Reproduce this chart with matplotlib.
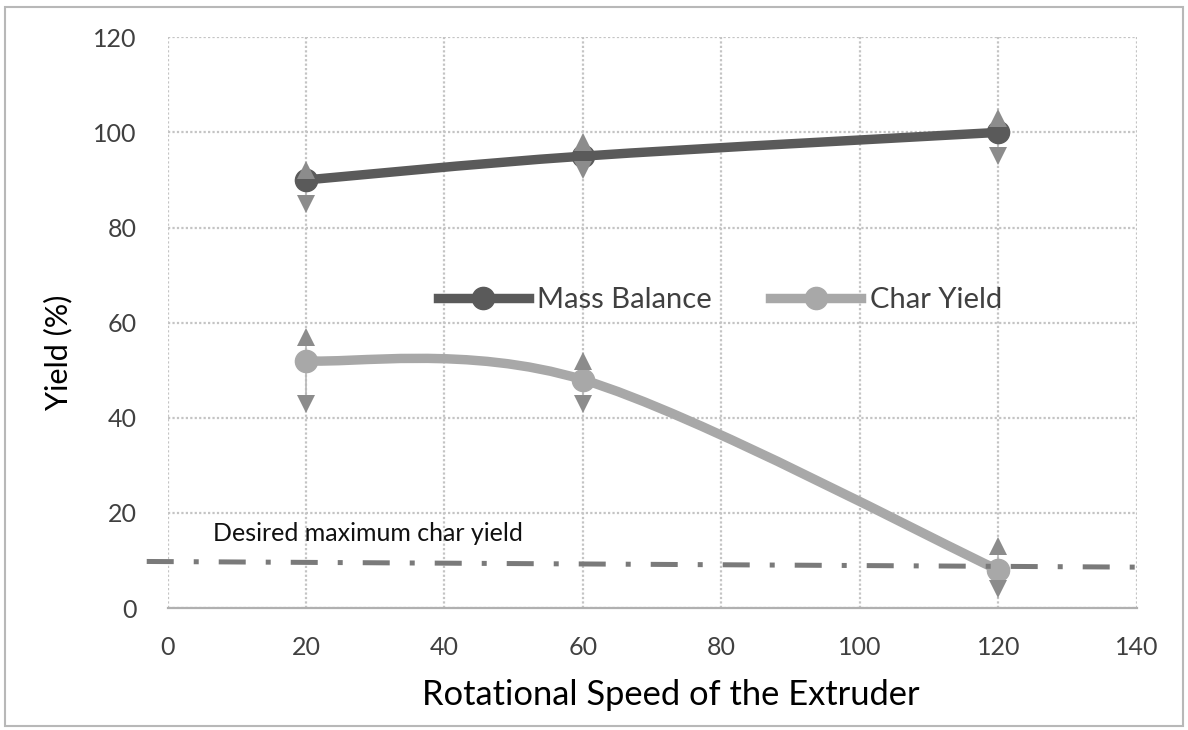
import numpy as np
import matplotlib.pyplot as plt
from matplotlib.path import Path
from matplotlib.patches import PathPatch, Rectangle
from matplotlib.lines import Line2D

plt.rcParams["font.family"] = ["Lato", "DejaVu Sans"]

speed = [20, 60, 120]
mass_balance = [90, 95, 100]
mass_upper = [92, 98, 103]
mass_lower = [85, 92, 95]
char_yield = [52, 48, 8]
char_upper = [57, 52, 13]
char_lower = [43, 43, 4]

threshold_x = [-3, 141]
threshold_y = [9.8, 8.6]
threshold_label = "Desired maximum char yield"

x_ticks = [0, 20, 40, 60, 80, 100, 120, 140]
y_ticks = [0, 20, 40, 60, 80, 100, 120]

MASS_COLOR = "#5a5a5a"
CHAR_COLOR = "#a8a8a8"


def smooth_path(xs, ys):
    # excel-style smoothed line: cubic bezier through the points
    pts = np.column_stack([xs, ys]).astype(float)
    n = len(pts)
    verts = [pts[0]]
    codes = [Path.MOVETO]
    for i in range(n - 1):
        p0 = pts[i - 1] if i > 0 else pts[i]
        p1 = pts[i]
        p2 = pts[i + 1]
        p3 = pts[i + 2] if i + 2 < n else pts[i + 1]
        c1 = p1 + (p2 - p0) / 6
        c2 = p2 - (p3 - p1) / 6
        verts += [c1, c2, p2]
        codes += [Path.CURVE4] * 3
    return Path(verts, codes)


fig = plt.figure(figsize=(11.88, 7.30), dpi=100)
ax = fig.add_axes([0.141, 0.167, 0.816, 0.782])

ax.set_xlim(0, 140)
ax.set_ylim(0, 120)
ax.set_xticks(x_ticks)
ax.set_yticks(y_ticks)
ax.grid(True, color="#c4c4c4", linestyle=(0, (1, 1)), linewidth=1.6, zorder=0)
ax.set_axisbelow(True)
for side in ["top", "right", "left"]:
    ax.spines[side].set_visible(False)
ax.spines["bottom"].set_color("#b0b0b0")
ax.spines["bottom"].set_linewidth(1.6)
ax.tick_params(length=0, labelsize=18, colors="#404040")
ax.tick_params(axis="x", pad=20)
ax.tick_params(axis="y", pad=22)

for ys, up, lo, col in [(mass_balance, mass_upper, mass_lower, MASS_COLOR),
                        (char_yield, char_upper, char_lower, CHAR_COLOR)]:
    ax.add_patch(PathPatch(smooth_path(speed, ys), facecolor="none",
                           edgecolor=col, lw=6.8, capstyle="round", zorder=3))
    ax.plot(speed, ys, "o", color=col, ms=16, zorder=4)
    ax.vlines(speed, lo, up, color="#b8b8b8", lw=1.2, zorder=2)
    ax.plot(speed, up, "^", color="#8c8c8c", ms=13, zorder=5, markeredgewidth=0)
    ax.plot(speed, lo, "v", color="#8c8c8c", ms=13, zorder=5, markeredgewidth=0)

thr = Line2D(threshold_x, threshold_y, color="#7a7a7a", lw=3.6, clip_on=False, zorder=4)
thr.set_dashes([5.4, 4, 1, 4])
ax.add_line(thr)
ax.text(6.5, 15.7, threshold_label, fontsize=18, color="#111111", va="center")

handles = [Line2D([], [], color=MASS_COLOR, lw=6.8, marker="o", ms=16),
           Line2D([], [], color=CHAR_COLOR, lw=6.8, marker="o", ms=16)]
ax.legend(handles, ["Mass Balance", "Char Yield"], loc="center",
          bbox_to_anchor=(0.57, 0.54), ncol=2, frameon=False, fontsize=21,
          handlelength=3.1, columnspacing=2.0, handletextpad=0.3,
          labelcolor="#404040")

ax.set_xlabel("Rotational Speed of the Extruder", fontsize=24.8)
ax.xaxis.set_label_coords(0.519, -0.125)
ax.set_ylabel("Yield (%)", fontsize=22)
ax.yaxis.set_label_coords(-0.098, 0.448)

fig.patches.append(Rectangle((0.004, 0.005), 0.992, 0.985, transform=fig.transFigure,
                             fill=False, edgecolor="#b8b8b8", lw=1.5))

fig.savefig("out.png", dpi=100)
